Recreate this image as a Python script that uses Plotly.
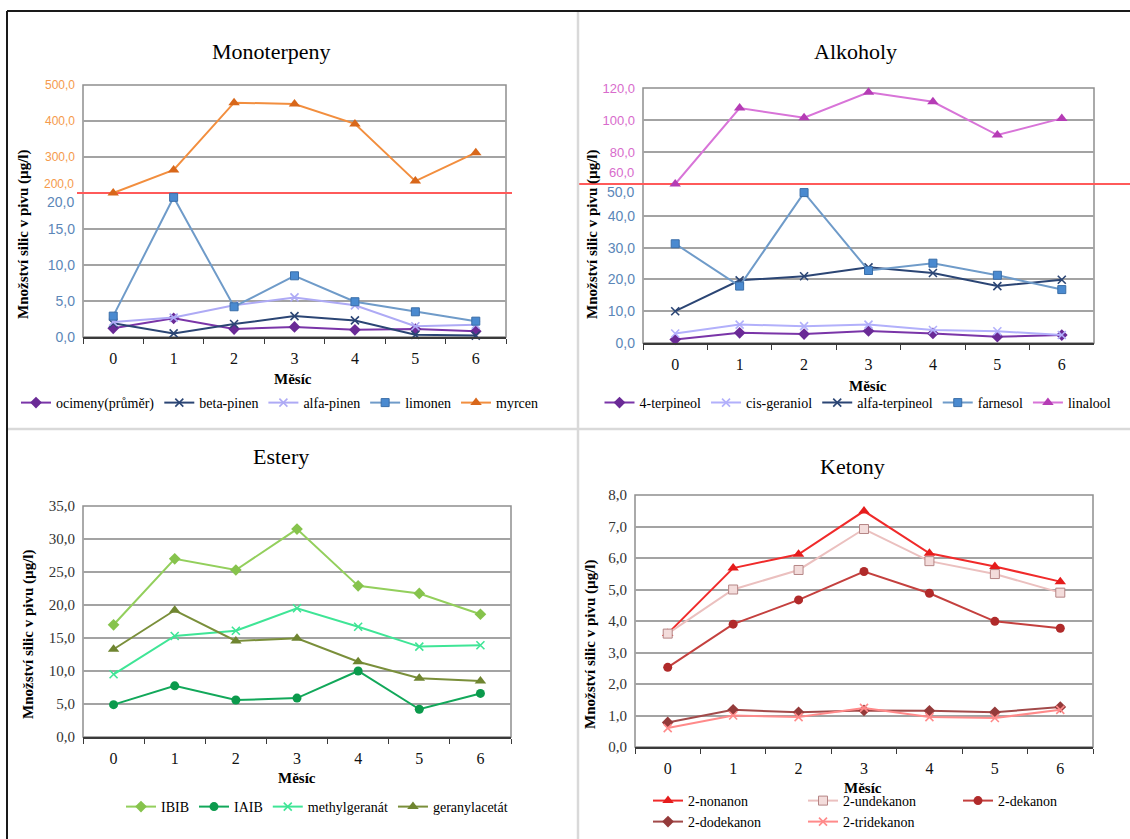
import plotly.graph_objects as go

W, H = 1130, 839
months = ["0", "1", "2", "3", "4", "5", "6"]

# ---- Monoterpeny ----
ocimeny = [1.2, 2.6, 1.1, 1.4, 1.0, 1.1, 0.8]
beta_pinen = [1.9, 0.5, 1.8, 2.9, 2.3, 0.3, 0.2]
alfa_pinen = [2.1, 2.7, 4.4, 5.5, 4.4, 1.5, 1.7]
limonen = [2.9, 19.4, 4.2, 8.5, 4.9, 3.5, 2.2]
myrcen = [200, 264, 451, 447, 392, 233, 312]

# ---- Alkoholy ----
terpineol4 = [1.1, 3.2, 2.8, 3.8, 3.0, 2.0, 2.5]
cis_geraniol = [3.0, 5.8, 5.3, 5.8, 4.1, 3.7, 2.5]
alfa_terpineol = [10.0, 19.7, 21.0, 23.8, 22.0, 17.9, 19.9]
farnesol = [31.2, 17.9, 47.3, 22.8, 25.1, 21.3, 16.8]
linalool = [60.0, 107.5, 101.4, 117.3, 111.4, 90.6, 101.0]

# ---- Estery ----
ibib = [17.0, 27.0, 25.3, 31.5, 22.9, 21.75, 18.6]
iaib = [4.9, 7.75, 5.6, 5.9, 10.0, 4.2, 6.6]
methylgeranat = [9.5, 15.3, 16.1, 19.5, 16.7, 13.7, 13.9]
geranylacetat = [13.3, 19.2, 14.55, 14.95, 11.4, 8.9, 8.5]

# ---- Ketony ----
nonanon = [3.6, 5.68, 6.12, 7.49, 6.15, 5.73, 5.25]
undekanon = [3.6, 5.0, 5.62, 6.92, 5.9, 5.49, 4.9]
dekanon = [2.53, 3.9, 4.67, 5.57, 4.88, 3.99, 3.77]
dodekanon = [0.78, 1.18, 1.1, 1.16, 1.15, 1.1, 1.27]
tridekanon = [0.6, 1.0, 0.95, 1.24, 0.95, 0.92, 1.18]

# axis ranges / ticks
mono_low = [0, 5, 10, 15, 20]
mono_high = [200, 300, 400, 500]
alk_low = [0, 10, 20, 30, 40, 50]
alk_high = [60, 80, 100, 120]
est_ticks = [0, 5, 10, 15, 20, 25, 30, 35]
ket_ticks = [0, 1, 2, 3, 4, 5, 6, 7, 8]

titles = ["Monoterpeny", "Alkoholy", "Estery", "Ketony"]
ytitle = "Množství silic v pivu (µg/l)"
xtitle = "Měsíc"

SERIF = "Liberation Serif"
NARROW = "Liberation Sans Narrow, Liberation Sans"


def px(x):
    return x / W


def py(y):
    return 1 - y / H


def fmt(v):
    return f"{v:.1f}".replace(".", ",")


fig = go.Figure()


def add(name, y, xa, ya, color, symbol, msize, legend, mcolor=None, mline=None, lw=2):
    mk = dict(symbol=symbol, size=msize, color=mcolor or color)
    if symbol.startswith("x-thin"):
        mk["line"] = dict(color=mcolor or color, width=1.6)
    elif mline:
        mk["line"] = dict(color=mline, width=1)
    fig.add_trace(go.Scatter(
        x=months, y=y, name=name, mode="lines+markers",
        line=dict(color=color, width=lw), marker=mk,
        xaxis=xa, yaxis=ya, cliponaxis=False, legend=legend))


# Monoterpeny
add("ocimeny(průměr)", ocimeny, "x", "y", "#7a35a8", "diamond", 9, "legend", "#6a2a96")
add("beta-pinen", beta_pinen, "x", "y", "#2b4574", "x-thin", 8, "legend")
add("alfa-pinen", alfa_pinen, "x", "y", "#aeaaf5", "x-thin", 8, "legend")
add("limonen", limonen, "x", "y", "#6f9bc9", "square", 8, "legend", "#4a8ad0", "#3a6ea8")
add("myrcen", myrcen, "x", "y2", "#f28e3e", "triangle-up", 10, "legend", "#d8671a")

# Alkoholy
add("4-terpineol", terpineol4, "x2", "y3", "#7a35a8", "diamond", 9, "legend2", "#6a2a96")
add("cis-geraniol", cis_geraniol, "x2", "y3", "#b2b0fb", "x-thin", 8, "legend2")
add("alfa-terpineol", alfa_terpineol, "x2", "y3", "#2b4574", "x-thin", 8, "legend2")
add("farnesol", farnesol, "x2", "y3", "#6f9bc9", "square", 8, "legend2", "#4a8ad0", "#3a6ea8")
add("linalool", linalool, "x2", "y4", "#d874d8", "triangle-up", 10, "legend2", "#b53cb5")

# Estery
add("IBIB", ibib, "x3", "y5", "#93cf5c", "diamond", 9, "legend3", "#86c34c")
add("IAIB", iaib, "x3", "y5", "#12a85a", "circle", 9, "legend3", "#0b9a4c")
add("methylgeranát", methylgeranat, "x3", "y5", "#3fe596", "x-thin", 8, "legend3")
add("geranylacetát", geranylacetat, "x3", "y5", "#7a8f3a", "triangle-up", 10, "legend3", "#6f8530")

# Ketony
add("2-nonanon", nonanon, "x4", "y6", "#f02a2a", "triangle-up", 10, "legend4", "#e51c1c")
add("2-undekanon", undekanon, "x4", "y6", "#ebc0bf", "square", 9, "legend4", "#f3dcdb", "#b58585")
add("2-dekanon", dekanon, "x4", "y6", "#c4403e", "circle", 9, "legend4", "#b02a2a")
add("2-dodekanon", dodekanon, "x4", "y6", "#a24a4a", "diamond", 9, "legend5", "#943a3a")
add("2-tridekanon", tridekanon, "x4", "y6", "#ff8a8a", "x-thin", 8, "legend5")

# panel geometry in pixels
panels = {
    "mono": dict(x=(83, 506), low=(337, 193), high=(193, 85)),
    "alk": dict(x=(643, 1094), low=(343, 184), high=(184, 88)),
    "est": dict(x=(83, 511), low=(737, 506)),
    "ket": dict(x=(635, 1093), low=(747, 495)),
}

GRID = "#a3a3a3"
AXC = "#3a3a3a"


def xaxis_cfg(p, anchor):
    return dict(domain=[px(p["x"][0]), px(p["x"][1])], type="category",
                categoryorder="array", categoryarray=months, range=[-0.5, 6.5],
                tickson="boundaries", ticks="outside", ticklen=5, tickcolor=AXC,
                tickwidth=1.3, showline=True, linecolor=AXC, linewidth=1.6,
                showgrid=False, tickfont=dict(family=SERIF, size=16, color="#111"),
                ticklabelstandoff=6, fixedrange=True, anchor=anchor, automargin=False)


def yaxis_cfg(dom, rng, tickvals, color, font, size, anchor):
    return dict(domain=[py(dom[0]), py(dom[1])], range=rng, tickvals=tickvals,
                ticktext=[fmt(v) for v in tickvals], showgrid=True,
                gridcolor=GRID, gridwidth=1.5, zeroline=False, showline=False,
                ticks="", ticklabelstandoff=7, anchor=anchor, automargin=False,
                tickfont=dict(family=font, size=size, color=color), fixedrange=True)


MONO_HI_C = "#f59a4c"
LOW_C = "#5b86b8"
ALK_HI_C = "#d86bcc"
DARK_C = "#333333"

fig.update_layout(
    xaxis=xaxis_cfg(panels["mono"], "y"),
    yaxis=yaxis_cfg(panels["mono"]["low"], [0, 20], mono_low[:-1], LOW_C, NARROW, 14, "x"),
    yaxis2=yaxis_cfg(panels["mono"]["high"], [200, 500], mono_high[1:], MONO_HI_C, NARROW, 12, "x"),
    xaxis2=xaxis_cfg(panels["alk"], "y3"),
    yaxis3=yaxis_cfg(panels["alk"]["low"], [0, 50], alk_low[:-1], LOW_C, NARROW, 14, "x2"),
    yaxis4=yaxis_cfg(panels["alk"]["high"], [60, 120], alk_high[1:], ALK_HI_C, NARROW, 13, "x2"),
    xaxis3=xaxis_cfg(panels["est"], "y5"),
    yaxis5=yaxis_cfg(panels["est"]["low"], [0, 35], est_ticks, DARK_C, SERIF, 15, "x3"),
    xaxis4=xaxis_cfg(panels["ket"], "y6"),
    yaxis6=yaxis_cfg(panels["ket"]["low"], [0, 8], ket_ticks, DARK_C, SERIF, 15, "x4"),
)

shapes = []
# plot area borders (paper coords)
for key in ["mono", "alk", "est", "ket"]:
    p = panels[key]
    top = p["high"][1] if "high" in p else p["low"][1]
    shapes.append(dict(type="rect", xref="paper", yref="paper",
                       x0=px(p["x"][0]), x1=px(p["x"][1]), y0=py(p["low"][0]), y1=py(top),
                       line=dict(color="#8f8f8f", width=1.5), layer="below"))
# axis break lines at the seam between the two stacked axes
shapes.append(dict(type="line", xref="paper", yref="paper", x0=px(77), x1=px(512),
                   y0=py(panels["mono"]["low"][1]), y1=py(panels["mono"]["low"][1]),
                   line=dict(color="#ff5a5a", width=1.8), layer="below"))
shapes.append(dict(type="line", xref="paper", yref="paper", x0=px(578), x1=1,
                   y0=py(panels["alk"]["low"][1]), y1=py(panels["alk"]["low"][1]),
                   line=dict(color="#ff5a5a", width=1.8), layer="below"))
# frame lines
shapes.append(dict(type="line", xref="paper", yref="paper", x0=px(578), x1=px(578),
                   y0=0, y1=py(11), line=dict(color="#d9d9d9", width=2.5), layer="below"))
shapes.append(dict(type="line", xref="paper", yref="paper", x0=px(7), x1=1,
                   y0=py(429), y1=py(429), line=dict(color="#d9d9d9", width=2.5), layer="below"))
shapes.append(dict(type="line", xref="paper", yref="paper", x0=px(7), x1=1,
                   y0=py(11), y1=py(11), line=dict(color="#1a1a1a", width=2), layer="below"))
shapes.append(dict(type="line", xref="paper", yref="paper", x0=px(7), x1=px(7),
                   y0=0, y1=py(11), line=dict(color="#1a1a1a", width=2), layer="below"))

ann = []
# boundary labels at axis breaks
ann.append(dict(text=fmt(mono_high[0]), xref="paper", yref="y2", x=px(83), y=mono_high[0],
                xanchor="right", yanchor="middle", xshift=-7, yshift=9, showarrow=False,
                font=dict(family=NARROW, size=12, color=MONO_HI_C)))
ann.append(dict(text=fmt(mono_low[-1]), xref="paper", yref="y", x=px(83), y=mono_low[-1],
                xanchor="right", yanchor="middle", xshift=-7, yshift=-9, showarrow=False,
                font=dict(family=NARROW, size=14, color=LOW_C)))
ann.append(dict(text=fmt(alk_high[0]), xref="paper", yref="y4", x=px(643), y=alk_high[0],
                xanchor="right", yanchor="middle", xshift=-7, yshift=12, showarrow=False,
                font=dict(family=NARROW, size=13, color=ALK_HI_C)))
ann.append(dict(text=fmt(alk_low[-1]), xref="paper", yref="y3", x=px(643), y=alk_low[-1],
                xanchor="right", yanchor="middle", xshift=-7, yshift=-8, showarrow=False,
                font=dict(family=NARROW, size=14, color=LOW_C)))

title_pos = [(271, 52), (855, 52), (281, 456), (852, 466)]
for t, (tx, ty) in zip(titles, title_pos):
    ann.append(dict(text=t, xref="paper", yref="paper", x=px(tx), y=py(ty),
                    xanchor="center", yanchor="middle", showarrow=False,
                    font=dict(family=SERIF, size=22, color="#000")))

ytitle_pos = [(23, 235), (592, 235), (28, 635), (590, 645)]
for (tx, ty) in ytitle_pos:
    ann.append(dict(text=f"<b>{ytitle}</b>", xref="paper", yref="paper", x=px(tx), y=py(ty),
                    xanchor="center", yanchor="middle", textangle=-90, showarrow=False,
                    font=dict(family=SERIF, size=15, color="#000")))

xtitle_pos = [(293, 379), (868, 386), (297, 778), (863, 788)]
for (tx, ty) in xtitle_pos:
    ann.append(dict(text=f"<b>{xtitle}</b>", xref="paper", yref="paper", x=px(tx), y=py(ty),
                    xanchor="center", yanchor="middle", showarrow=False,
                    font=dict(family=SERIF, size=15, color="#000")))

fig.update_layout(shapes=shapes, annotations=ann)


def leg(x, y, anchor="center", entrywidth=None):
    d = dict(orientation="h", x=px(x), y=py(y), xanchor=anchor, yanchor="middle",
             xref="paper", yref="paper",
             font=dict(family=SERIF, size=14, color="#000"), bgcolor="rgba(0,0,0,0)",
             itemwidth=30, itemclick=False, itemdoubleclick=False)
    if entrywidth:
        d["entrywidth"] = entrywidth
    return d


fig.update_layout(
    legend=leg(280, 403),
    legend2=leg(858, 403),
    legend3=leg(317, 807),
    legend4=leg(648, 801, "left", 110),
    legend5=leg(648, 822, "left", 110),
)

fig.update_layout(
    width=W, height=H, margin=dict(l=0, r=0, t=0, b=0, pad=0, autoexpand=False),
    paper_bgcolor="white", plot_bgcolor="white",
    separators=", ", showlegend=True,
    font=dict(family=SERIF, color="#000"),
)

fig.write_html(
    "out.html",
    config={"displayModeBar": False},
    post_script=(
        "var s=document.documentElement.style;s.margin='0';s.padding='0';"
        "s.overflow='hidden';"
        "var b=document.body.style;b.margin='0';b.padding='0';b.overflow='hidden';"
    ),
)
